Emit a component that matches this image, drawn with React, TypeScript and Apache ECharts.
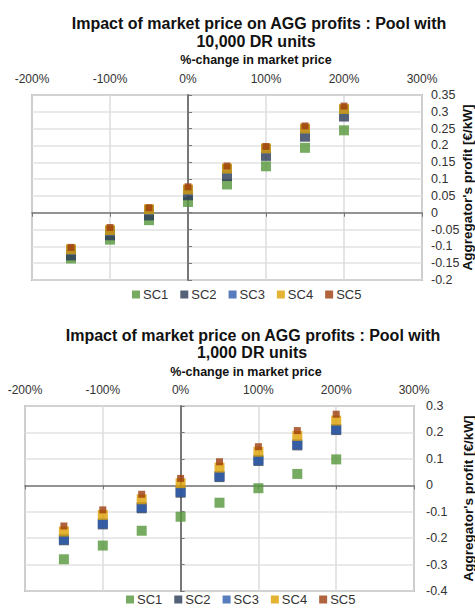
import React, { useEffect, useRef } from "react";
import * as echarts from "echarts";

const priceChange = [-150, -100, -50, 0, 50, 100, 150, 200];
const seriesNames = ["SC1", "SC2", "SC3", "SC4", "SC5"];
const seriesColors = ["#55963A", "#2B3A58", "#2D5DAE", "#DDA000", "#9C3C0C"];
const seriesSizes = [10, 10, 10, 10, 7];

// Pool with 10,000 DR units
const top10000: number[][] = [
  [-0.136, -0.080, -0.022, 0.032, 0.084, 0.138, 0.193, 0.245],
  [-0.127, -0.067, -0.008, 0.052, 0.109, 0.169, 0.226, 0.286],
  [-0.111, -0.054, 0.008, 0.067, 0.129, 0.189, 0.248, 0.306],
  [-0.109, -0.052, 0.010, 0.069, 0.131, 0.191, 0.250, 0.308],
  [-0.103, -0.044, 0.015, 0.077, 0.139, 0.197, 0.258, 0.317],
];

// Pool with 1,000 DR units
const bottom1000: number[][] = [
  [-0.280, -0.228, -0.172, -0.119, -0.066, -0.011, 0.043, 0.098],
  [-0.208, -0.148, -0.087, -0.028, 0.031, 0.092, 0.151, 0.209],
  [-0.204, -0.144, -0.083, -0.024, 0.035, 0.096, 0.155, 0.213],
  [-0.175, -0.112, -0.053, 0.008, 0.067, 0.127, 0.187, 0.245],
  [-0.154, -0.093, -0.034, 0.026, 0.089, 0.146, 0.207, 0.269],
];

const titleLine1 = "Impact of market price on AGG profits : Pool with";
const titleTop2 = "10,000 DR units";
const titleBottom2 = "1,000 DR units";
const xName = "%-change in market price";
const yName = "Aggregator's profit [€/kW]";

const FONT = '"Liberation Sans", Arial, Helvetica, sans-serif';

function textEl(text: string, x: number, y: number, size: number, weight: string) {
  return {
    type: "text",
    x,
    y,
    silent: true,
    style: {
      text,
      fontSize: size,
      fontWeight: weight,
      fontFamily: FONT,
      fill: "#111",
      align: "center",
      verticalAlign: "middle",
      textAlign: "center",
      textVerticalAlign: "middle",
    },
  };
}

export default function App() {
  const ref = useRef<HTMLDivElement>(null);

  useEffect(() => {
    if (!ref.current) return;
    const chart = echarts.init(ref.current, undefined, { renderer: "svg" });

    const grids = [
      { left: 32, top: 95, width: 390, height: 185, min: -0.2, max: 0.35, interval: 0.05, labelMargin: 9, nameGap: 38, data: top10000 },
      { left: 25, top: 406, width: 389, height: 185, min: -0.4, max: 0.3, interval: 0.1, labelMargin: 12, nameGap: 47, data: bottom1000 },
    ];

    const xAxes: any[] = [];
    const yAxes: any[] = [];
    const series: any[] = [];

    grids.forEach((g, gi) => {
      xAxes.push({
        type: "value",
        gridIndex: gi,
        min: -200,
        max: 300,
        interval: 100,
        position: "top",
        axisLine: { show: false, onZero: false },
        axisTick: { show: false },
        axisLabel: { formatter: "{value}%", fontSize: 12, color: "#333", margin: 10, fontFamily: FONT },
        splitLine: { show: true, lineStyle: { color: "#dcdcdc", width: 1.5 } },
      });
      xAxes.push({
        type: "value",
        gridIndex: gi,
        min: -200,
        max: 300,
        interval: 100,
        position: "bottom",
        axisLine: { show: true, onZero: true, lineStyle: { color: "#777", width: 1.5 } },
        axisTick: { show: true, length: 4, lineStyle: { color: "#777", width: 1 } },
        axisLabel: { show: false },
        splitLine: { show: false },
      });
      yAxes.push({
        type: "value",
        gridIndex: gi,
        min: g.min,
        max: g.max,
        interval: g.interval,
        position: "right",
        axisLine: { show: false, onZero: false },
        axisTick: { show: false },
        axisLabel: { fontSize: 12.5, color: "#333", margin: g.labelMargin, fontFamily: FONT },
        splitLine: { show: true, lineStyle: { color: "#e2e2e2", width: 1.5 } },
        name: yName,
        nameLocation: "middle",
        nameRotate: 90,
        nameGap: g.nameGap,
        nameMoveOverlap: false,
        nameTextStyle: { fontSize: 13.5, fontWeight: "bold", color: "#111", fontFamily: FONT },
      });
      yAxes.push({
        type: "value",
        gridIndex: gi,
        min: g.min,
        max: g.max,
        interval: g.interval,
        position: "right",
        axisLine: { show: true, onZero: true, lineStyle: { color: "#777", width: 2 } },
        axisTick: { show: true, length: 4, lineStyle: { color: "#777", width: 1 } },
        axisLabel: { show: false },
        splitLine: { show: false },
      });

      seriesNames.forEach((name, si) => {
        series.push({
          type: "scatter",
          name,
          xAxisIndex: gi * 2,
          yAxisIndex: gi * 2,
          symbol: "rect",
          symbolSize: seriesSizes[si],
          itemStyle: { color: seriesColors[si] },
          data: priceChange.map((x, i) => [x, g.data[si][i]]),
          z: 3 + si,
        });
      });
    });

    const legendBase = {
      orient: "horizontal",
      itemWidth: 8,
      itemHeight: 8,
      itemGap: 12,
      padding: 0,
      selectedMode: false,
      data: seriesNames,
      textStyle: { fontSize: 13, color: "#333", fontFamily: FONT, padding: [0, 0, 0, -2] },
    };

    chart.setOption({
      animation: false,
      backgroundColor: "#fff",
      grid: grids.map((g) => ({
        left: g.left,
        top: g.top,
        width: g.width,
        height: g.height,
        show: true,
        borderColor: "#858585",
        borderWidth: 1.5,
        backgroundColor: "transparent",
        containLabel: false,
        outerBoundsMode: "none",
      })),
      xAxis: xAxes,
      yAxis: yAxes,
      legend: [
        { ...legendBase, left: 132, top: 288 },
        { ...legendBase, left: 126, top: 593 },
      ],
      graphic: [
        textEl(titleLine1, 259, 23, 16, "bold"),
        textEl(titleTop2, 256, 41, 16, "bold"),
        textEl(xName, 256, 60, 12.5, "bold"),
        textEl(titleLine1, 253, 335, 16, "bold"),
        textEl(titleBottom2, 252, 352, 16, "bold"),
        textEl(xName, 246, 372, 12.5, "bold"),
      ],
      series,
    });

    return () => chart.dispose();
  }, []);

  return (
    <div
      ref={ref}
      style={{ position: "fixed", left: 0, top: 0, width: 475, height: 608, background: "#fff" }}
    />
  );
}
